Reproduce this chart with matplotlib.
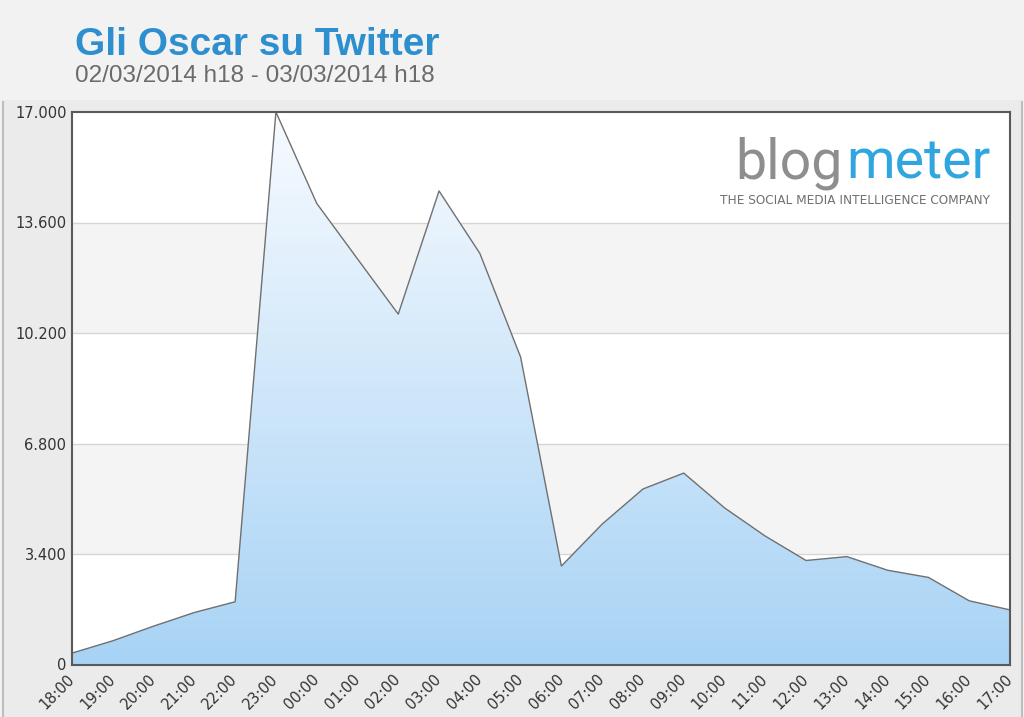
import numpy as np
import matplotlib
matplotlib.use("Agg")
import matplotlib.pyplot as plt
from matplotlib.patches import Rectangle
from matplotlib.lines import Line2D
from matplotlib.ticker import FuncFormatter

hours = ["18:00", "19:00", "20:00", "21:00", "22:00", "23:00", "00:00", "01:00",
         "02:00", "03:00", "04:00", "05:00", "06:00", "07:00", "08:00", "09:00",
         "10:00", "11:00", "12:00", "13:00", "14:00", "15:00", "16:00", "17:00"]
tweets = [350, 730, 1180, 1600, 1930, 17000, 14190, 12480,
          10780, 14570, 12650, 9460, 3030, 4320, 5400, 5890,
          4820, 3950, 3200, 3320, 2900, 2680, 1960, 1680]
yticks = [0, 3400, 6800, 10200, 13600, 17000]

title = "Gli Oscar su Twitter"
subtitle = "02/03/2014 h18 - 03/03/2014 h18"

fig = plt.figure(figsize=(10.24, 7.17), dpi=100)
fig.patch.set_facecolor("#f2f2f2")

# inner panel behind the chart
panel = Rectangle((3 / 1024, 0), 1018 / 1024, 1 - 100 / 717,
                  transform=fig.transFigure, facecolor="#ebebeb",
                  edgecolor="none", zorder=-10)
fig.add_artist(panel)
for px in (2.5, 1021.5):
    fig.add_artist(Line2D([px / 1024, px / 1024], [0, 1 - 102 / 717],
                          transform=fig.transFigure, color="#bdbdbd", lw=1.5, zorder=-9))

ax = fig.add_axes([72 / 1024, 1 - 664.5 / 717, 938 / 1024, 552.5 / 717])
ax.set_zorder(1)
x = np.arange(len(hours))
ax.set_facecolor("white")

# alternating bands
for i in range(len(yticks) - 1):
    if i % 2 == 1:
        ax.axhspan(yticks[i], yticks[i + 1], color="#f4f4f4", zorder=0, lw=0)
for t in yticks[1:-1]:
    ax.axhline(t, color="#d6d6d6", lw=1, zorder=1)

# gradient area
poly = ax.fill_between(x, 0, tweets, facecolor="none", edgecolor="none")
top = np.array([248, 251, 255]) / 255
bot = np.array([168, 211, 245]) / 255
t = np.linspace(0, 1, 256)[:, None]
grad = (top * (1 - t) + bot * t)[:, None, :]
img = ax.imshow(grad, extent=[0, len(hours) - 1, 0, 17000], aspect="auto",
                origin="upper", zorder=2)
path = poly.get_paths()[0]
img.set_clip_path(path, transform=ax.transData)
ax.plot(x, tweets, color="#707070", lw=1, zorder=3)
ax.set_xlim(0, len(hours) - 1)
ax.set_ylim(0, 17000)

ax.set_yticks(yticks)
ax.yaxis.set_major_formatter(FuncFormatter(lambda v, p: f"{int(v):,}".replace(",", ".")))
ax.set_xticks(x)
ax.set_xticklabels(hours, rotation=45, ha="right", va="center", rotation_mode="anchor")
ax.tick_params(axis="both", length=0, labelsize=10.5, labelcolor="#333333")
ax.tick_params(axis="x", pad=9)
ax.tick_params(axis="y", pad=4)
for s in ax.spines.values():
    s.set_color("#5a5a5a")
    s.set_linewidth(1.5)
    s.set_zorder(5)

fig.text(75 / 1024, 1 - 55 / 717, title, fontsize=28, fontweight="bold",
         color="#2e8fcf", family="Liberation Sans")
fig.text(75 / 1024, 1 - 82 / 717, subtitle, fontsize=17.5, color="#6b6b6b",
         family="Liberation Sans")

# logo
ax.text(0.822, 0.88, "blog", transform=ax.transAxes, fontsize=40,
        color="#8e8e8e", family="Roboto", ha="right", va="baseline")
ax.text(0.825, 0.88, "meter", transform=ax.transAxes, fontsize=40,
        color="#2fa6e0", family="Roboto", ha="left", va="baseline")
ax.text(0.691, 0.839, "THE SOCIAL MEDIA INTELLIGENCE COMPANY", transform=ax.transAxes,
        fontsize=8.7, color="#707070", ha="left", va="center")

fig.savefig("out.png", dpi=100, facecolor=fig.get_facecolor())
